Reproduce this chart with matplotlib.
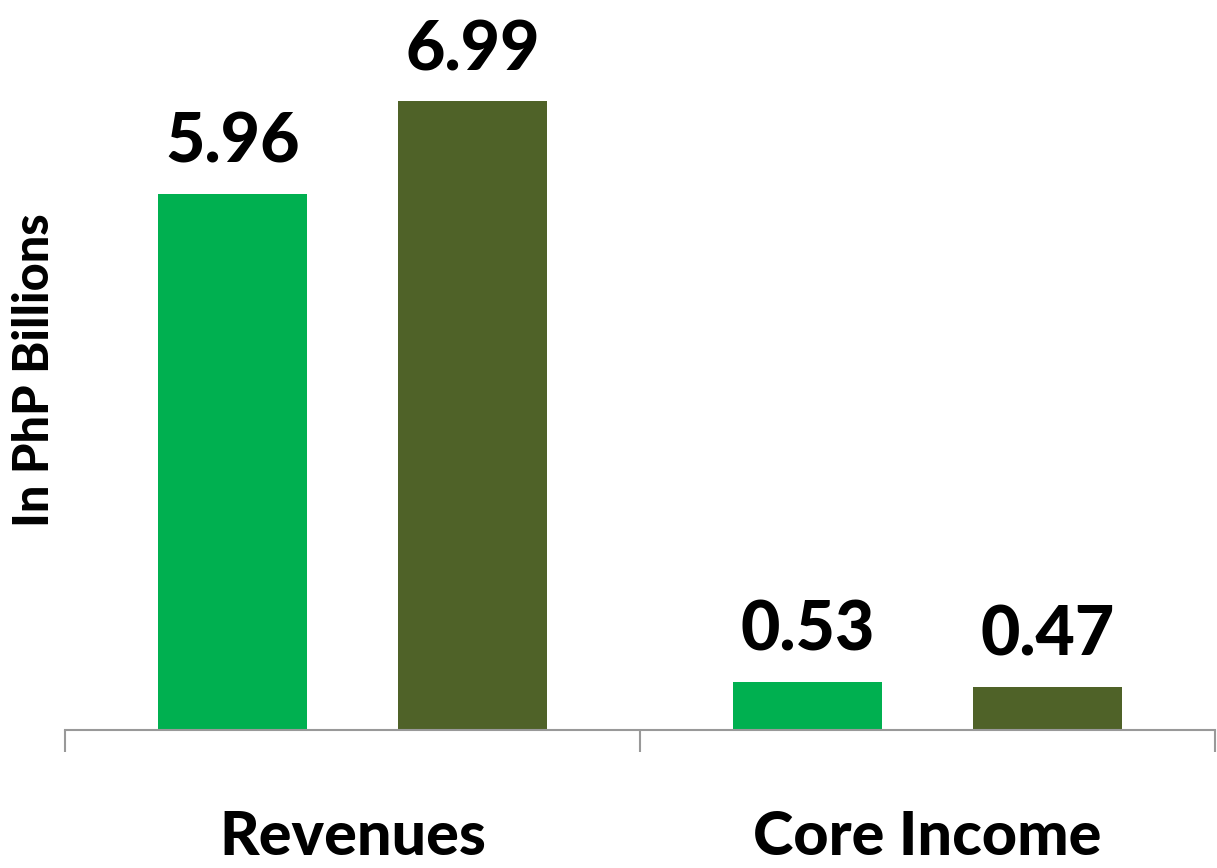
import matplotlib
matplotlib.use("Agg")
import matplotlib.pyplot as plt
import numpy as np

categories = ["Revenues", "Core Income"]
series_a = [5.96, 0.53]   # earlier period
series_b = [6.99, 0.47]   # later period
colors = ["#00B050", "#4F6228"]

plt.rcParams['font.family'] = ['Lato', 'DejaVu Sans']

fig = plt.figure(figsize=(12.17, 8.68), dpi=100)
ax = fig.add_axes([65/1217, (868-729.5)/868, 1150/1217, 729.5/868])

x = np.arange(len(categories))
w = 0.259
off = 0.209
b1 = ax.bar(x - off, series_a, width=w, color=colors[0])
b2 = ax.bar(x + off, series_b, width=w, color=colors[1])

for bars, vals in ((b1, series_a), (b2, series_b)):
    for r, v in zip(bars, vals):
        ax.annotate(f"{v:.2f}", (r.get_x() + r.get_width()/2, r.get_height()),
                    xytext=(0, 14), textcoords="offset points",
                    ha="center", va="bottom", fontsize=49, fontweight=900)

ax.set_xlim(-0.5, 1.5)
ax.set_ylim(0, 729.5/89.85)
for s in ("top", "right", "left"):
    ax.spines[s].set_visible(False)
ax.spines["bottom"].set_color("#999999")
ax.spines["bottom"].set_linewidth(1.5)
ax.set_yticks([])
ax.set_xticks(x)
ax.set_xticklabels(categories, fontsize=44, fontweight=900)
ax.tick_params(axis="x", which="major", length=0, pad=57)
ax.set_xticks([-0.5, 0.5, 1.5], minor=True)
ax.tick_params(axis="x", which="minor", length=16, width=1.5, color="#999999")
ax.set_ylabel("In PhP Billions", fontsize=35, fontweight=900)
ax.yaxis.set_label_coords(-8/1150, (729.5-370)/729.5)

fig.savefig("out.png", dpi=100)
